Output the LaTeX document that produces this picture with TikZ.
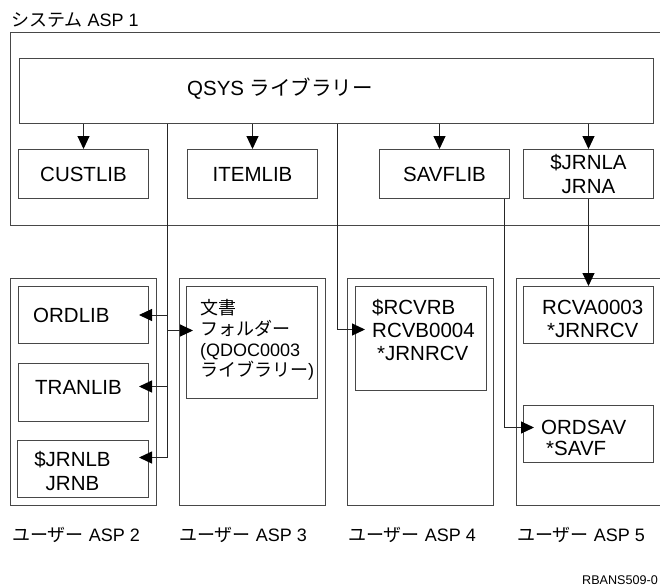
\documentclass[tikz,border=0pt]{standalone}
\usepackage{fontspec}
\setmainfont{Liberation Sans}
\newfontfamily\jp{Noto Sans CJK JP}
\usetikzlibrary{arrows.meta}
\newcommand\fl{\rule{0pt}{1em}}
\begin{document}
\begin{tikzpicture}[x=1pt,y=-1pt,
  box/.style={draw=black!72, line width=1pt, inner sep=0pt, anchor=north west},
  wire/.style={draw=black!85, line width=1pt},
  arr/.style={wire, -{Triangle[length=13pt,width=12pt,color=black]}},
  bt/.style={font=\fontsize{20.5}{23}\selectfont, inner sep=0pt},
  st/.style={font=\fontsize{18}{20.7}\selectfont, inner sep=0pt},
]
\useasboundingbox (0,0) rectangle (660,587);
\clip (0,0) rectangle (660,587);

% system ASP 1
\node[st, anchor=base west] (title) at (11,26.4) {{\jp システム} ASP 1};
\node[box, minimum width=660pt, minimum height=193pt] (asp1) at (10,32) {};
\node[box, minimum width=634pt, minimum height=65pt] (qsys) at (19,58) {};
\node[bt, anchor=base west] (qsysT) at (187,95.3) {QSYS {\jp ライブラリー}};
\node[box, bt, minimum width=130pt, minimum height=49pt] (custlib) at (18,149) {CUSTLIB};
\node[box, bt, minimum width=130pt, minimum height=49pt] (itemlib) at (187,149) {ITEMLIB};
\node[box, bt, minimum width=130pt, minimum height=49pt] (savflib) at (379,149) {SAVFLIB};
\node[box, bt, minimum width=130pt, minimum height=49pt, align=center,
      font=\fontsize{20.5}{24}\selectfont] (jrnla) at (523,149) {\$JRNLA\\JRNA};

% user ASPs
\node[box, minimum width=146pt, minimum height=227pt] (asp2) at (10,278) {};
\node[box, minimum width=146pt, minimum height=227pt] (asp3) at (179,278) {};
\node[box, minimum width=146pt, minimum height=227pt] (asp4) at (347,278) {};
\node[box, minimum width=160pt, minimum height=227pt] (asp5) at (516,278) {};

\node[box, minimum width=130pt, minimum height=57pt] (ordlib) at (18,286) {};
\node[bt, anchor=base west] (ordlibT) at (33,322.3) {ORDLIB};
\node[box, minimum width=130pt, minimum height=58pt] (tranlib) at (18,363) {};
\node[bt, anchor=base west] (tranlibT) at (35,394.3) {TRANLIB};
\node[box, minimum width=131pt, minimum height=57pt] (jrnlb) at (17,440) {};
\node[bt, anchor=north, align=center, font=\fontsize{20.5}{24}\selectfont]
     (jrnlbT) at (72.5,445.8) {\fl\$JRNLB\\JRNB};

\node[box, minimum width=131pt, minimum height=112pt] (docs) at (186,286) {};
\node[st, anchor=north west, align=left] (docsT) at (200,296.4)
     {\fl{\jp 文書}\\{\jp フォルダー}\\(QDOC0003\\{\jp ライブラリー})};

\node[box, minimum width=131pt, minimum height=104pt] (rcvrb) at (355,286) {};
\node[bt, anchor=north west, align=left] (rcvrbT) at (372,293.8)
     {\fl\$RCVRB\\RCVB0004\\\kern5pt*JRNRCV};

\node[box, minimum width=130pt, minimum height=57pt] (rcva) at (523,286) {};
\node[bt, anchor=north west, align=left] (rcvaT) at (542,293.8)
     {\fl RCVA0003\\\kern5pt*JRNRCV};

\node[box, minimum width=130pt, minimum height=57pt] (ordsav) at (523,405) {};
\node[bt, anchor=north west, align=left, font=\fontsize{20.5}{21}\selectfont]
     (ordsavT) at (541,413.8) {\fl ORDSAV\\\kern5pt*SAVF};

% labels
\node[st, anchor=base west] (l2) at (12,541.4) {{\jp ユーザー} ASP 2};
\node[st, anchor=base west] (l3) at (179,541.4) {{\jp ユーザー} ASP 3};
\node[st, anchor=base west] (l4) at (348,541.4) {{\jp ユーザー} ASP 4};
\node[st, anchor=base west] (l5) at (517,541.4) {{\jp ユーザー} ASP 5};
\node[anchor=base west, inner sep=0pt, font=\fontsize{12.6}{15}\selectfont] (code) at (582,584.5) {RBANS509-0};

% connectors
\coordinate (x1) at (167,0);
\coordinate (x2) at (337,0);
\coordinate (savin) at ([xshift=-5pt]savflib.north);
\draw[arr] (qsys.south -| custlib.north) -- (custlib.north);
\draw[arr] (qsys.south -| itemlib.north) -- (itemlib.north);
\draw[arr] (qsys.south -| savin) -- (savin);
\draw[arr] (qsys.south -| jrnla.north) -- (jrnla.north);

\coordinate (t1) at ([xshift=-10pt,yshift=11.5pt]jrnlb.east);
\coordinate (t0) at ([xshift=-10pt]ordlib.east);
\coordinate (t2) at ([xshift=-10pt,yshift=6pt]tranlib.east);
\coordinate (t3) at ([xshift=7pt,yshift=12pt]docs.west);
\draw[arr] (qsys.south -| x1) |- (t1);
\draw[arr] (x1 |- t0) -- (t0);
\draw[arr] (x1 |- t2) -- (t2);
\draw[arr] (x1 |- t3) -- (t3);

\coordinate (t4) at ([xshift=10pt,yshift=9pt]rcvrb.west);
\draw[arr] (qsys.south -| x2) |- (t4);

\coordinate (s3) at ([xshift=60pt]savflib.south);
\coordinate (t5) at ([xshift=11pt,yshift=6.5pt]ordsav.west);
\draw[arr] (s3) |- (t5);

\draw[arr] (jrnla.south) -- (rcva.north);
\end{tikzpicture}
\end{document}
